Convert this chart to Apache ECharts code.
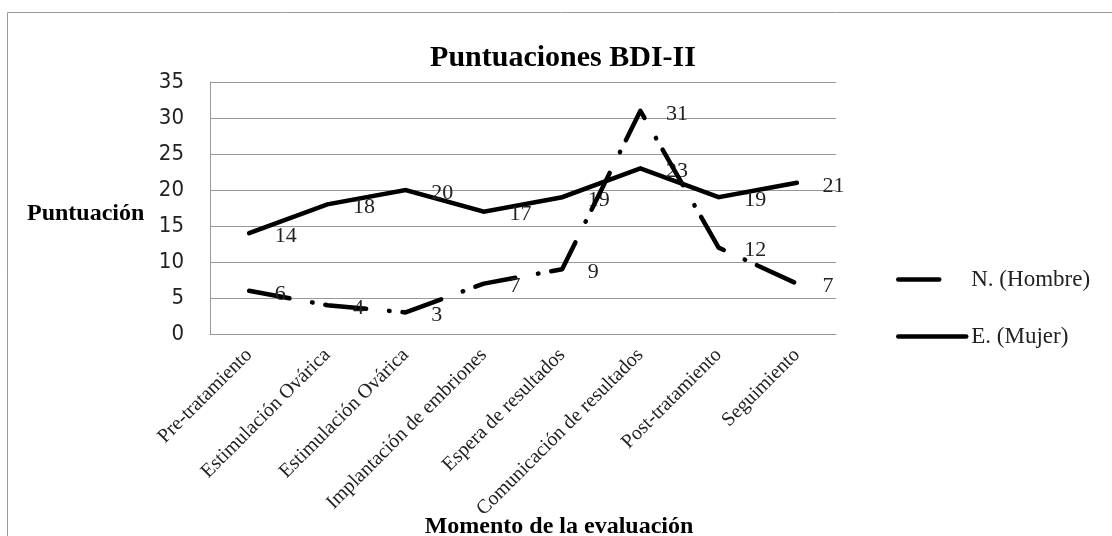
<!DOCTYPE html>
<html>
<head>
<meta charset="utf-8">
<script src="https://cdn.jsdelivr.net/npm/echarts@6/dist/echarts.min.js"></script>
<style>
  html, body { margin: 0; padding: 0; background: #fff; }
  #main { width: 1112px; height: 536px; }
</style>
</head>
<body>
<div id="main"></div>
<script>
// datos
var categorias = ['Pre-tratamiento', 'Estimulación Ovárica', 'Estimulación Ovárica',
  'Implantación de embriones', 'Espera de resultados', 'Comunicación de resultados',
  'Post-tratamiento', 'Seguimiento'];
var hombre = [6, 4, 3, 7, 9, 31, 12, 7];
var mujer = [14, 18, 20, 17, 19, 23, 19, 21];
var yTicks = [0, 5, 10, 15, 20, 25, 30, 35];

var serif = '"Liberation Serif", "Times New Roman", serif';
var chart = echarts.init(document.getElementById('main'));

var etiqueta = {
  show: true,
  position: 'right',
  distance: 25,
  offset: [0, 3],
  color: '#222',
  fontFamily: serif,
  fontSize: 22
};
var rayaPunto = [41, 23, 0.5, 13];

var option = {
  animation: false,
  backgroundColor: '#fff',
  title: {
    text: 'Puntuaciones BDI-II',
    left: 558,
    textAlign: 'center',
    top: 38,
    textStyle: { fontFamily: serif, fontSize: 30, fontWeight: 'bold', color: '#000' }
  },
  graphic: [{
    type: 'rect',
    shape: { x: 7.5, y: 12.5, width: 1200, height: 600 },
    style: { fill: null, stroke: '#999', lineWidth: 1 },
    silent: true
  }, {
    type: 'text',
    left: 27,
    top: 202,
    style: { text: 'Puntuación', font: 'bold 24px ' + serif, fill: '#000' }
  }],
  legend: {
    orient: 'vertical',
    left: 891,
    top: 263,
    itemGap: 34,
    itemWidth: 68,
    itemHeight: 14,
    textStyle: { fontFamily: serif, fontSize: 23, color: '#222' },
    data: [
      { name: 'N. (Hombre)', lineStyle: { type: [41, 60], width: 4.5, cap: 'round' } },
      { name: 'E. (Mujer)', lineStyle: { width: 4.5, cap: 'round' } }
    ]
  },
  grid: { left: 210, right: 276, top: 82, bottom: 202, containLabel: false, outerBoundsMode: 'none' },
  xAxis: {
    type: 'category',
    data: categorias,
    boundaryGap: true,
    name: 'Momento de la evaluación',
    nameLocation: 'middle',
    nameGap: 181,
    nameMoveOverlap: false,
    nameTextStyle: { fontFamily: serif, fontSize: 24, fontWeight: 'bold', color: '#000', padding: [0, 0, 0, 72] },
    axisLine: { lineStyle: { color: '#999', width: 1 } },
    axisTick: { show: false },
    axisLabel: {
      rotate: 45,
      interval: 0,
      margin: 18,
      fontFamily: serif,
      fontSize: 20,
      color: '#222'
    }
  },
  yAxis: {
    type: 'value',
    min: 0,
    max: 35,
    interval: 5,
    axisLine: { show: true, lineStyle: { color: '#999', width: 1 } },
    axisTick: { show: false },
    splitLine: { lineStyle: { color: '#999', width: 1 } },
    axisLabel: {
      margin: 26,
      fontFamily: '"Liberation Sans Narrow", "DejaVu Sans Condensed", sans-serif',
      fontSize: 22,
      color: '#222',
      formatter: function (v) { return yTicks.indexOf(v) >= 0 ? String(v) : ''; }
    }
  },
  series: [
    {
      name: 'N. (Hombre)',
      type: 'line',
      data: hombre,
      symbol: 'circle',
      symbolSize: 1,
      showSymbol: true,
      itemStyle: { color: 'rgba(0,0,0,0)' },
      lineStyle: { color: '#000', width: 4.5, type: rayaPunto, cap: 'round', join: 'round' },
      label: etiqueta,
      z: 3
    },
    {
      name: 'E. (Mujer)',
      type: 'line',
      data: mujer,
      symbol: 'circle',
      symbolSize: 1,
      showSymbol: true,
      itemStyle: { color: 'rgba(0,0,0,0)' },
      lineStyle: { color: '#000', width: 4.5, cap: 'round', join: 'miter' },
      label: etiqueta,
      z: 2
    }
  ]
};

chart.setOption(option);
</script>
</body>
</html>
